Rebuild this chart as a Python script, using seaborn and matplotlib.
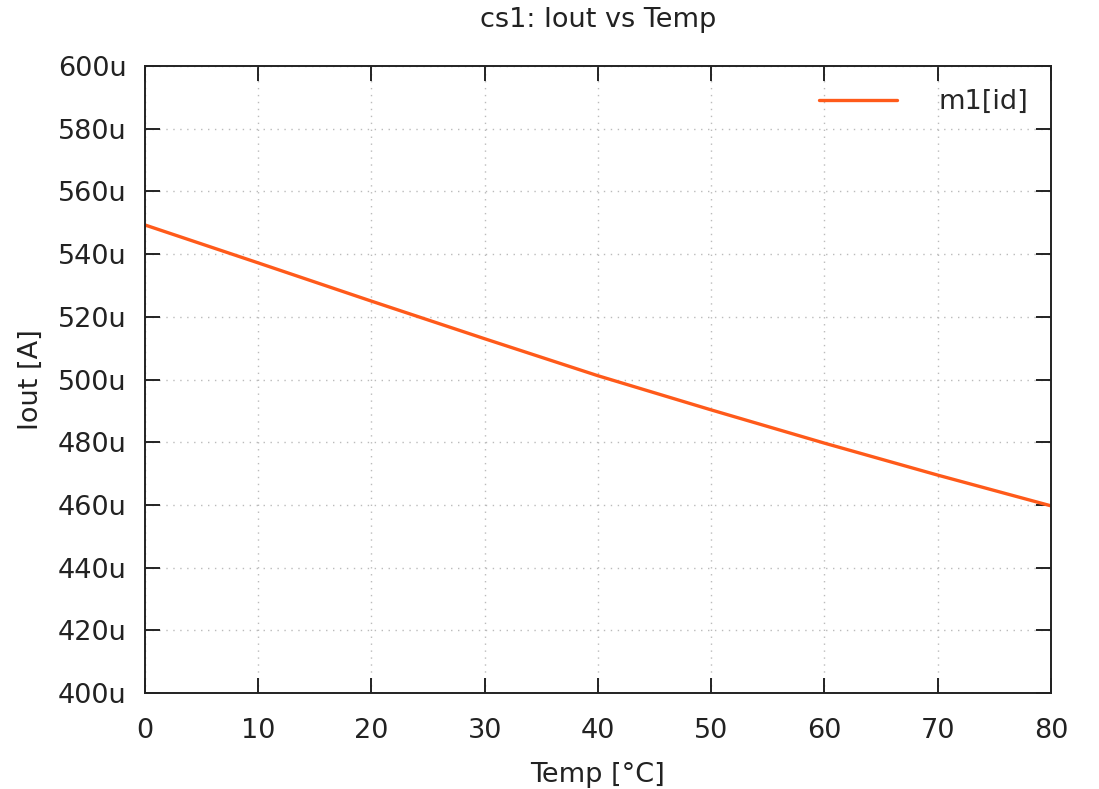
import matplotlib
matplotlib.use("Agg")
import matplotlib.pyplot as plt
import seaborn as sns
import pandas as pd
from matplotlib.ticker import FuncFormatter, MultipleLocator

temps = [0, 10, 20, 30, 40, 50, 60, 70, 80]
iout_uA = [549.3, 537.2, 525.0, 513.0, 501.2, 490.3, 479.7, 469.5, 459.7]
series_name = "m1[id]"

df = pd.DataFrame({"Temp": temps, "Iout": [v * 1e-6 for v in iout_uA], "series": series_name})

sns.set_theme(style="white")
plt.rcParams['font.family'] = ['DejaVu Sans']

FS = 19.5
fig = plt.figure(figsize=(10.99, 7.89), dpi=100)
ax = fig.add_axes([0.1319, 0.1217, 0.8244, 0.7946])

sns.lineplot(data=df, x="Temp", y="Iout", hue="series", palette=["#FF5A1A"],
             linewidth=2.4, ax=ax)

ax.set_xlim(0, 80)
ax.set_ylim(400e-6, 600e-6)
ax.xaxis.set_major_locator(MultipleLocator(10))
ax.yaxis.set_major_locator(MultipleLocator(20e-6))
ax.yaxis.set_major_formatter(FuncFormatter(lambda v, p: f"{round(v * 1e6):d}u"))

ax.grid(True, linestyle=(0, (1, 4)), color="#bbbbbb", linewidth=1.0)
for s in ax.spines.values():
    s.set_visible(True)
    s.set_color("#222222")
    s.set_linewidth(1.4)

ax.tick_params(direction="in", length=11, width=1.4, colors="#222222",
               top=True, right=True, bottom=True, left=True,
               labelsize=FS, labelcolor="#222222")
ax.tick_params(axis="x", pad=18)
ax.tick_params(axis="y", pad=13)

ax.set_xlabel("Temp [°C]", fontsize=FS, color="#222222", labelpad=13)
ax.set_ylabel("Iout [A]", fontsize=FS, color="#222222", labelpad=10)
ax.set_title("cs1: Iout vs Temp", fontsize=FS, color="#222222", pad=28)

leg = ax.legend(loc="upper right", frameon=False, fontsize=FS, handlelength=2.9,
                handletextpad=1.5, borderaxespad=0.45)

fig.savefig("out.png", dpi=100)
